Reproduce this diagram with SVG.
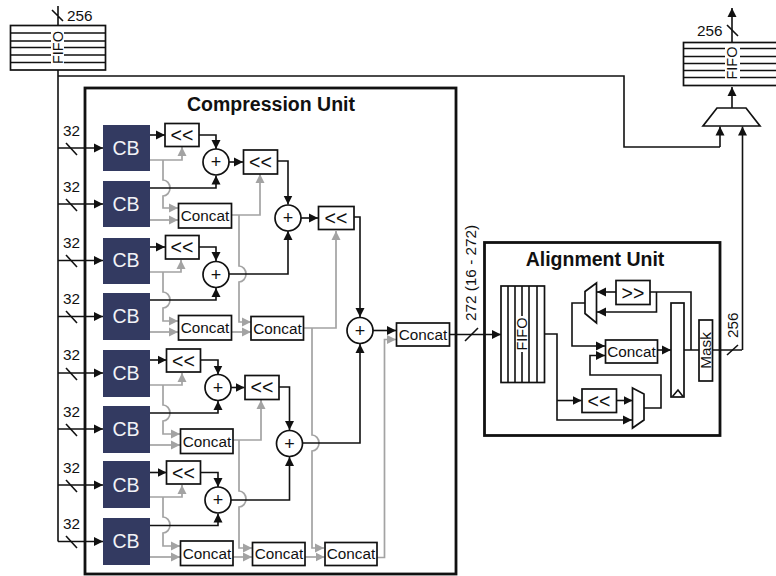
<svg xmlns="http://www.w3.org/2000/svg" width="776" height="576" viewBox="0 0 776 576">
<style>
text{font-family:"Liberation Sans",Arial,sans-serif;fill:#111;font-size:15.300px}
.t{font-size:19.500px;font-weight:bold;text-anchor:middle}
.c{text-anchor:middle}
.cb{fill:#333a61}
.cbt{fill:#f2f2f6;font-size:19.500px;text-anchor:middle}
.b{fill:#fff;stroke:#111;stroke-width:1.700}
.u{fill:none;stroke:#111;stroke-width:2.800}
.k{fill:none;stroke:#111;stroke-width:1.600}
.g{fill:none;stroke:#a3a3a3;stroke-width:1.700}
.a{marker-end:url(#ka)}
.h{marker-end:url(#ga)}
.sh{font-size:19.500px;text-anchor:middle}
.p{font-size:18px;text-anchor:middle}
</style>
<defs>
<marker id="ka" markerUnits="userSpaceOnUse" markerWidth="10" markerHeight="10" refX="9" refY="5" orient="auto"><path d="M0,0.500L9,5L0,9.500z" fill="#111"/></marker>
<marker id="ga" markerUnits="userSpaceOnUse" markerWidth="10" markerHeight="10" refX="9" refY="5" orient="auto"><path d="M0,0.500L9,5L0,9.500z" fill="#a3a3a3"/></marker>
</defs>
<g id="connectors">
<path class="k" d="M58 6V25M52 10L63 21M58 70V541.500M58 76H624V147H720"/>
<path class="k a" d="M720 147V126.500"/>
<path class="k a" d="M742.500 350V126.500"/>
<path class="k a" d="M732 108V87"/>
<path class="k a" d="M732 42V8"/>
<path class="k" d="M727 25L738 36M727 355L738 345"/>
<g id="inputs">
<path class="k a" d="M58 148H103"/><path class="k" d="M66 143L77 155"/>
<path class="k a" d="M58 204H103"/><path class="k" d="M66 199L77 211"/>
<path class="k a" d="M58 260.500H103"/><path class="k" d="M66 255L77 267"/>
<path class="k a" d="M58 316.500H103"/><path class="k" d="M66 311L77 323"/>
<path class="k a" d="M58 373H103"/><path class="k" d="M66 368L77 380"/>
<path class="k a" d="M58 429H103"/><path class="k" d="M66 424L77 436"/>
<path class="k a" d="M58 485H103"/><path class="k" d="M66 480L77 492"/>
<path class="k a" d="M58 541.500H103"/><path class="k" d="M66 536L77 548"/>
</g>
<g id="gray">
<path class="g h" d="M150 160H182V147"/>
<path class="g h" d="M163 160V180A7 8 0 0 1 163 196V208H178"/>
<path class="g h" d="M150 220H178"/>
<path class="g h" d="M232 215H260V174"/>
<path class="g h" d="M239 215V266A7 8 0 0 1 239 282V322H251"/>
<path class="g h" d="M150 272H181V260"/>
<path class="g h" d="M163 272V292A7 8 0 0 1 163 308V321H178"/>
<path class="g h" d="M150 332H178"/>
<path class="g h" d="M232 332H251"/>
<path class="g h" d="M303 328H336V231"/>
<path class="g h" d="M312 328V435A7 8 0 0 1 312 451V548H324"/>
<path class="g h" d="M150 385H182V373"/>
<path class="g h" d="M163 385V405A7 8 0 0 1 163 421V434H180"/>
<path class="g h" d="M150 445H180"/>
<path class="g h" d="M233 440H261V400"/>
<path class="g h" d="M239 440V491A7 8 0 0 1 239 507V548H252"/>
<path class="g h" d="M150 497H182V485"/>
<path class="g h" d="M163 497V517A7 8 0 0 1 163 533V546H180"/>
<path class="g h" d="M150 557H180"/>
<path class="g h" d="M233 557H252"/>
<path class="g h" d="M305 557H324.500"/>
<path class="g h" d="M377 557.500H384.500V339.500H396"/>
</g>
<g id="black">
<path class="k a" d="M150 135H165"/>
<path class="k a" d="M199 135H216V149"/>
<path class="k a" d="M150 188H216V175.500"/>
<path class="k a" d="M229 162H243"/>
<path class="k a" d="M278 161H288V204.500"/>
<path class="k a" d="M229 274H288V231"/>
<path class="k a" d="M301 218H318"/>
<path class="k a" d="M354 217H360V317"/>
<path class="k a" d="M150 247H165"/>
<path class="k a" d="M199 247H216V261"/>
<path class="k a" d="M150 300H216V288"/>
<path class="k a" d="M150 360H166.500"/>
<path class="k a" d="M201 360H218V374.500"/>
<path class="k a" d="M150 413H218V401"/>
<path class="k a" d="M231 387.500H244.500"/>
<path class="k a" d="M279 387H289.500V430"/>
<path class="k a" d="M150 472.500H166.500"/>
<path class="k a" d="M201 472.500H218V487"/>
<path class="k a" d="M150 525.500H218V513.500"/>
<path class="k a" d="M231 500H289.500V457"/>
<path class="k a" d="M302.500 443H360V344"/>
<path class="k a" d="M373 330.500H396"/>
<path class="k a" d="M449 334.500H501"/>
<path class="k" d="M465 341L478 328"/>
<path class="k a" d="M544 334H557V420H632"/>
<path class="k a" d="M557 400.500H581.500"/>
<path class="k a" d="M617 400.500H632.500"/>
<path class="k a" d="M644 408H661V375H590V355.500H605"/>
<path class="k a" d="M585 303H572V346H605"/>
<path class="k a" d="M616 292H597"/>
<path class="k a" d="M650 292H691V350M656.500 292V312H597"/>
<path class="k a" d="M657.500 350H671"/>
<path class="k" d="M684 350H742"/>
</g>
</g>
<g id="compression-unit"><rect class="u" x="85" y="88" width="371" height="486"/><text class="t" x="271" y="111">Compression Unit</text></g>
<g id="alignment-unit"><rect class="u" x="484.500" y="242.500" width="235.500" height="193"/><text class="t" x="595" y="266">Alignment Unit</text></g>
<g id="fifo-in">
<rect class="b" x="10.500" y="25.500" width="95" height="44.500"/>
<path class="k" d="M10.500 33H105.500M10.500 41H105.500M10.500 47.500H105.500M10.500 55H105.500M10.500 62.500H105.500"/>
<rect x="51" y="30" width="13" height="34" fill="#fff"/>
<text class="c" transform="translate(63 47.500) rotate(-90)" style="font-size:14.500px">FIFO</text>
</g>
<text x="67" y="21">256</text>
<g id="fifo-out">
<rect class="b" x="683.500" y="42.500" width="94" height="43"/>
<path class="k" d="M683.500 48.500H777M683.500 56.500H777M683.500 63.500H777M683.500 70.500H777M683.500 77.500H777"/>
<rect x="725" y="45" width="15" height="35" fill="#fff"/>
<text class="c" transform="translate(737 63) rotate(-90)" style="font-size:14.500px">FIFO</text>
</g>
<text x="697" y="36">256</text>
<g id="mux-out"><path class="b" d="M717 108H746L760 126H703z"/></g>
<text x="63" y="136">32</text><text x="63" y="192">32</text><text x="63" y="247.500">32</text><text x="63" y="303.500">32</text><text x="63" y="359.500">32</text><text x="63" y="416.500">32</text><text x="63" y="472.500">32</text><text x="63" y="528.500">32</text>
<g id="cb1"><rect class="cb" x="103" y="125" width="47" height="46"/><text class="cbt" x="126" y="155">CB</text></g>
<g id="cb2"><rect class="cb" x="103" y="181" width="47" height="46"/><text class="cbt" x="126" y="211">CB</text></g>
<g id="cb3"><rect class="cb" x="103" y="238" width="47" height="46"/><text class="cbt" x="126" y="267">CB</text></g>
<g id="cb4"><rect class="cb" x="103" y="293" width="47" height="47"/><text class="cbt" x="126" y="323">CB</text></g>
<g id="cb5"><rect class="cb" x="103" y="350" width="47" height="47"/><text class="cbt" x="126" y="380">CB</text></g>
<g id="cb6"><rect class="cb" x="103" y="406" width="47" height="47"/><text class="cbt" x="126" y="436">CB</text></g>
<g id="cb7"><rect class="cb" x="103" y="461" width="47" height="47"/><text class="cbt" x="126" y="492">CB</text></g>
<g id="cb8"><rect class="cb" x="103" y="518" width="47" height="47"/><text class="cbt" x="126" y="548">CB</text></g>
<g id="shl1"><rect class="b" x="165" y="123.500" width="34" height="23"/><text class="sh" x="182" y="142">&lt;&lt;</text></g>
<g id="shl2"><rect class="b" x="243.500" y="150" width="34" height="24"/><text class="sh" x="260.500" y="169">&lt;&lt;</text></g>
<g id="shl3"><rect class="b" x="318.500" y="206.500" width="35.500" height="23"/><text class="sh" x="336" y="225">&lt;&lt;</text></g>
<g id="shl4"><rect class="b" x="165.500" y="235.500" width="33.500" height="23.500"/><text class="sh" x="182" y="254">&lt;&lt;</text></g>
<g id="shl5"><rect class="b" x="166.500" y="349" width="34" height="23"/><text class="sh" x="183.500" y="368">&lt;&lt;</text></g>
<g id="shl6"><rect class="b" x="245" y="375.500" width="34" height="24"/><text class="sh" x="262" y="394">&lt;&lt;</text></g>
<g id="shl7"><rect class="b" x="166.500" y="461" width="34" height="23"/><text class="sh" x="183.500" y="480">&lt;&lt;</text></g>
<g id="add1"><circle class="b" cx="216" cy="162" r="13"/><text class="p" x="216" y="168">+</text></g>
<g id="add2"><circle class="b" cx="216" cy="274.500" r="13"/><text class="p" x="216" y="280.500">+</text></g>
<g id="add3"><circle class="b" cx="288" cy="218" r="13"/><text class="p" x="288" y="224">+</text></g>
<g id="add4"><circle class="b" cx="218" cy="387.500" r="13"/><text class="p" x="218" y="393.500">+</text></g>
<g id="add5"><circle class="b" cx="218" cy="500" r="13"/><text class="p" x="218" y="506">+</text></g>
<g id="add6"><circle class="b" cx="289.500" cy="443.500" r="13"/><text class="p" x="289.500" y="449.500">+</text></g>
<g id="add7"><circle class="b" cx="360" cy="330.500" r="13"/><text class="p" x="360" y="336.500">+</text></g>
<g id="concat1"><rect class="b" x="178.500" y="203.500" width="53" height="24.500"/><text class="c" x="205" y="221">Concat</text></g>
<g id="concat2"><rect class="b" x="178.500" y="315.500" width="53" height="24.500"/><text class="c" x="205" y="333">Concat</text></g>
<g id="concat3"><rect class="b" x="251" y="316.500" width="52.500" height="23.500"/><text class="c" x="277.500" y="333.500">Concat</text></g>
<g id="concat4"><rect class="b" x="180.500" y="429" width="52.500" height="24.500"/><text class="c" x="207" y="446.500">Concat</text></g>
<g id="concat5"><rect class="b" x="180.500" y="541" width="52.500" height="24.500"/><text class="c" x="207" y="558.500">Concat</text></g>
<g id="concat6"><rect class="b" x="252.500" y="542.500" width="52.500" height="23"/><text class="c" x="279" y="559">Concat</text></g>
<g id="concat7"><rect class="b" x="325" y="542.500" width="52" height="23"/><text class="c" x="351" y="559">Concat</text></g>
<g id="concat8"><rect class="b" x="396.500" y="323" width="53" height="23"/><text class="c" x="423" y="339.500">Concat</text></g>
<text transform="translate(475.500 321) rotate(-90)">272 (16 - 272)</text>
<g id="fifo-align">
<rect class="b" x="501" y="286" width="43.500" height="96.500"/>
<path class="k" d="M508 286V382.500M515 286V382.500M522 286V382.500M529 286V382.500M537 286V382.500"/>
<rect x="516" y="316" width="12" height="36" fill="#fff"/>
<text class="c" transform="translate(526.500 334) rotate(-90)" style="font-size:14.500px">FIFO</text>
</g>
<g id="shl8"><rect class="b" x="582" y="389" width="34.500" height="23.500"/><text class="sh" x="599" y="407.500">&lt;&lt;</text></g>
<g id="mux-low"><path class="b" d="M632.500 388L644 394V420L632.500 428z"/></g>
<g id="mux-high"><path class="b" d="M596.500 283V323L585 313.500V291.500z"/></g>
<g id="shr"><rect class="b" x="616" y="280.500" width="34" height="24"/><text class="sh" x="633" y="299.500">&gt;&gt;</text></g>
<g id="concat9"><rect class="b" x="605.500" y="340" width="52" height="23"/><text class="c" x="631.500" y="356.500">Concat</text></g>
<g id="register"><rect class="b" x="671" y="303" width="13" height="94"/><path class="k" d="M672.500 396.500L678 390L683 396.500"/></g>
<g id="mask"><rect class="b" x="699" y="320" width="13.500" height="61"/><text class="c" transform="translate(711 350.500) rotate(-90)">Mask</text></g>
<text transform="translate(738 338) rotate(-90)">256</text>
</svg>
